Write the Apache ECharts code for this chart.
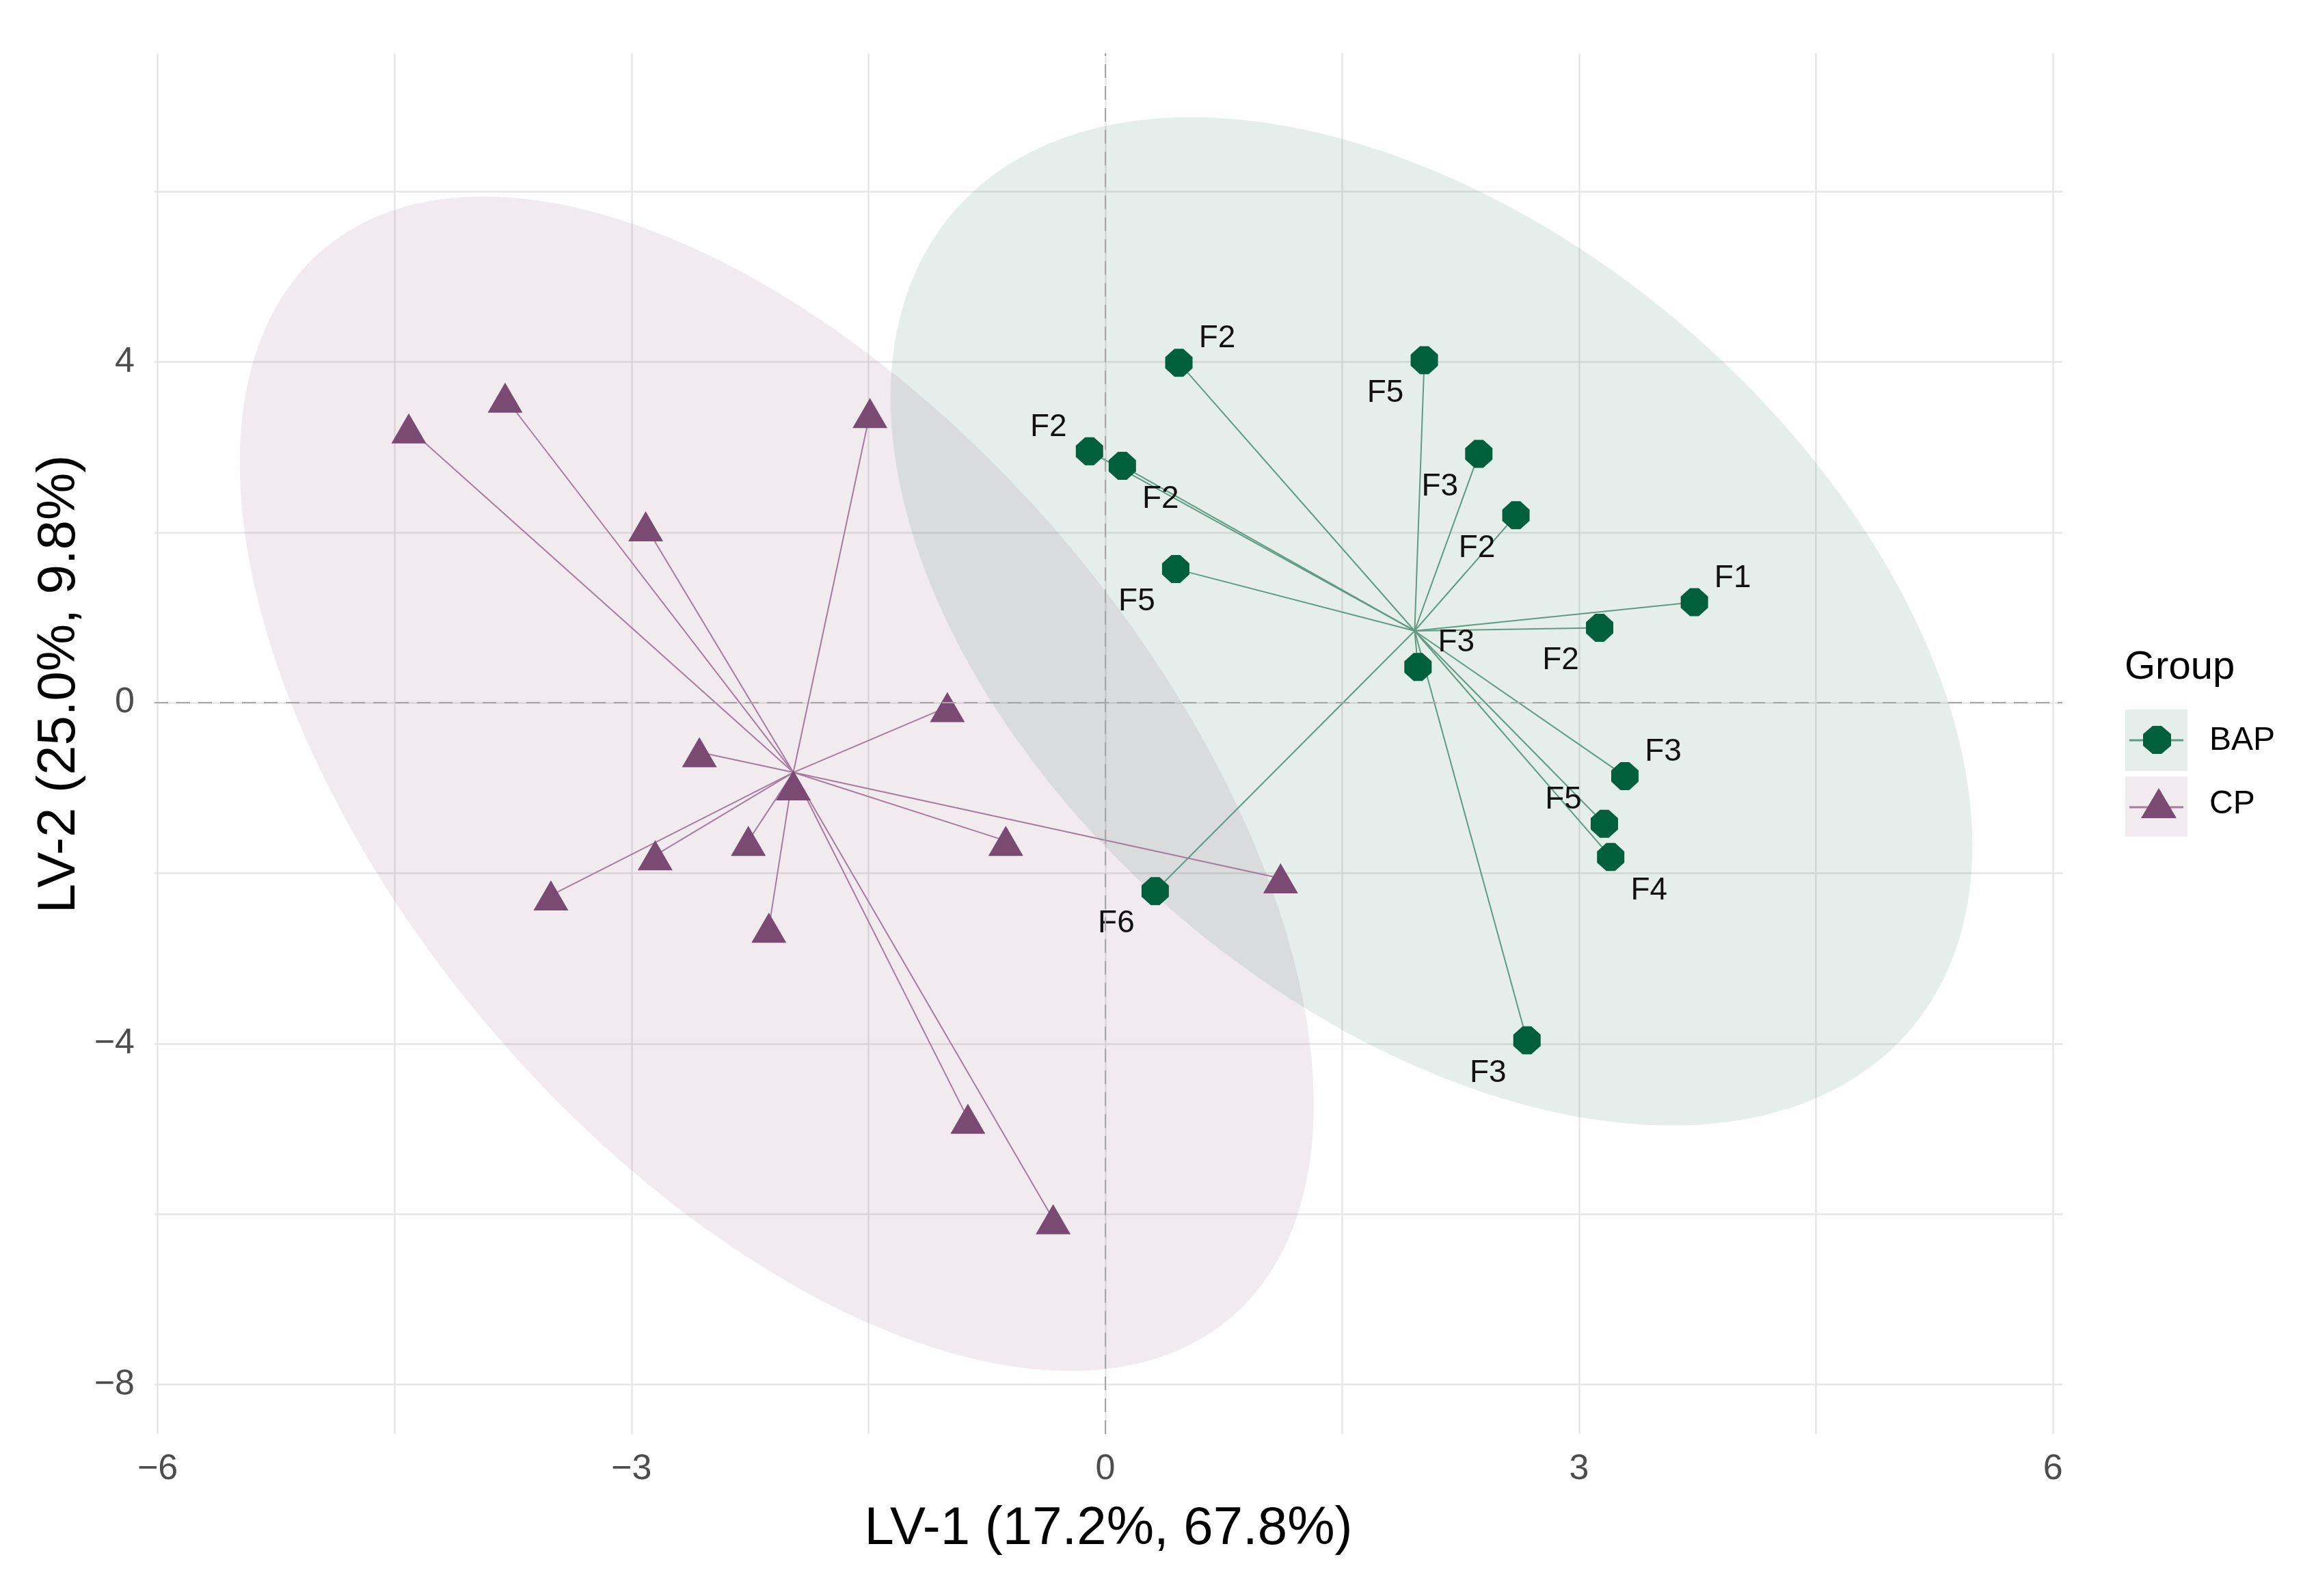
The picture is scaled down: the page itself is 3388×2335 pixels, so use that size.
<!DOCTYPE html>
<html>
<head>
<meta charset="utf-8">
<script src="https://cdn.jsdelivr.net/npm/echarts@6/dist/echarts.min.js"></script>
<style>html,body{margin:0;padding:0;background:#fff}#c{width:3388px;height:2335px}</style>
</head>
<body>
<div id="c"></div>
<script>
// ---------- data ----------
const groups = ['BAP', 'CP'];
const bapX = [0.466, 2.02, -0.10, 0.108, 2.365, 2.60, 0.446, 3.73, 3.13, 1.98, 3.29, 3.16, 3.20, 0.316, 2.67];
const bapY = [3.99, 4.02, 2.95, 2.78, 2.92, 2.20, 1.57, 1.18, 0.88, 0.42, -0.86, -1.42, -1.81, -2.21, -3.96];
const bapLabels = ['F2', 'F5', 'F2', 'F2', 'F3', 'F2', 'F5', 'F1', 'F2', 'F3', 'F3', 'F5', 'F4', 'F6', 'F3'];
const bapLabelSide = ['ur', 'll', 'ul', 'lr', 'll', 'll', 'll', 'ur', 'll', 'ur', 'ur', 'ul', 'lr', 'll', 'll'];
const cpX = [-4.41, -3.80, -1.49, -2.91, -1.00, -2.57, -1.975, -2.26, -2.85, -0.63, -3.51, -2.13, 1.11, -0.87, -0.33];
const cpY = [3.22, 3.58, 3.40, 2.07, -0.05, -0.58, -0.97, -1.62, -1.79, -1.62, -2.26, -2.64, -2.06, -4.88, -6.06];
const xTickLabels = [-6, -3, 0, 3, 6];
const yTickLabels = [-8, -4, 0, 4];
// 95% ellipse descriptors (centre and covariance) per group
const ellipseCenterX = [2.065, -2.08];
const ellipseCenterY = [0.955, -0.95];
const ellipseVarX = [11.73, 11.56];
const ellipseVarY = [34.99, 47.47];
const ellipseCovXY = [-9.0, -12.8];

// ---------- styles ----------
const FONT = '"Liberation Sans", Arial, Helvetica, sans-serif';
const markerColor = ['#00603d', '#7a4a73'];
const segColor = ['#5f9a83', '#a67c9d'];
const ellipseColor = ['#005a35', '#74386b'];
const octagon = 'path://M34,0L66,0L100,30L100,70L66,100L34,100L0,70L0,30Z';
const sideOffset = { ur: [56, -35], ul: [-60, -35], ll: [-57, 48], lr: [56, 49] };
const fmtMinus = v => String(v).replace('-', '\u2212');

function mean(a) { return a.reduce((s, v) => s + v, 0) / a.length; }
const bapC = [mean(bapX), mean(bapY)];
const cpC = [mean(cpX), mean(cpY)];

const bapSegs = bapX.map((x, i) => ({ coords: [bapC, [x, bapY[i]]] }));
const cpSegs = cpX.map((x, i) => ({ coords: [cpC, [x, cpY[i]]] }));

const bapPoints = bapX.map((x, i) => ({
  value: [x, bapY[i]],
  name: bapLabels[i],
  label: { offset: sideOffset[bapLabelSide[i]] }
}));
const cpPoints = cpX.map((x, i) => [x, cpY[i]]);

function ellipseItem(params, api) {
  const i = params.dataIndex;
  const a = Math.sqrt(ellipseVarX[i]);
  const b = ellipseCovXY[i] / a;
  const c = Math.sqrt(ellipseVarY[i] - b * b);
  const pts = [];
  const n = 240;
  for (let k = 0; k < n; k++) {
    const t = 2 * Math.PI * k / n;
    pts.push(api.coord([ellipseCenterX[i] + a * Math.cos(t), ellipseCenterY[i] + b * Math.cos(t) + c * Math.sin(t)]));
  }
  return { type: 'polygon', shape: { points: pts }, style: { fill: ellipseColor[i], opacity: 0.1 } };
}

const chart = echarts.init(document.getElementById('c'), null, { renderer: 'canvas' });
const gridLine = { show: true, showMinLine: false, showMaxLine: false, lineStyle: { color: '#e6e6e6', width: 2.5 } };

// legend key (ggplot-style: tinted box, segment line, marker)
const legendGraphics = [
  { type: 'text', left: 3108, top: 948, z: 10, style: { text: 'Group', fontSize: 58, fontFamily: FONT, fill: '#000' } },
  { type: 'rect', shape: { x: 3109, y: 1038, width: 91, height: 90 }, z: 1, style: { fill: ellipseColor[0], opacity: 0.1 } },
  { type: 'rect', shape: { x: 3109, y: 1136, width: 91, height: 88 }, z: 1, style: { fill: ellipseColor[1], opacity: 0.1 } },
  { type: 'line', shape: { x1: 3115, y1: 1083, x2: 3194, y2: 1083 }, z: 2, style: { stroke: segColor[0], lineWidth: 3 } },
  { type: 'line', shape: { x1: 3115, y1: 1181, x2: 3194, y2: 1181 }, z: 2, style: { stroke: segColor[1], lineWidth: 3 } },
  { type: 'polygon', z: 3, shape: { points: [[3149, 1062], [3162, 1062], [3176, 1074], [3176, 1091], [3162, 1103], [3149, 1103], [3135, 1091], [3135, 1074]] }, style: { fill: markerColor[0] } },
  { type: 'polygon', z: 3, shape: { points: [[3158, 1153], [3184, 1197], [3132, 1197]] }, style: { fill: markerColor[1] } },
  { type: 'text', x: 3232, y: 1084, z: 10, style: { text: 'BAP', fontSize: 48, fontFamily: FONT, fill: '#000', verticalAlign: 'middle', align: 'left' } },
  { type: 'text', x: 3232, y: 1177, z: 10, style: { text: 'CP', fontSize: 48, fontFamily: FONT, fill: '#000', verticalAlign: 'middle', align: 'left' } }
];

chart.setOption({
  backgroundColor: '#ffffff',
  animation: false,
  textStyle: { fontFamily: FONT },
  grid: { left: 226, right: 371, top: 78, bottom: 237, containLabel: false },
  xAxis: {
    type: 'value', min: -6.02, max: 6.06, minInterval: 1.5, maxInterval: 1.5, splitNumber: 8,
    axisLine: { show: false }, axisTick: { show: false },
    splitLine: gridLine,
    axisLabel: {
      showMinLabel: false, showMaxLabel: false, margin: 26,
      fontSize: 52, color: '#4d4d4d', fontFamily: FONT,
      formatter: v => (xTickLabels.some(t => Math.abs(t - v) < 1e-6) ? fmtMinus(Math.round(v)) : '')
    },
    name: 'LV-1 (17.2%, 67.8%)', nameLocation: 'middle', nameGap: 100,
    nameTextStyle: { fontSize: 78, color: '#000', fontFamily: FONT }
  },
  yAxis: {
    type: 'value', min: -8.58, max: 7.62, minInterval: 2, maxInterval: 2, splitNumber: 8,
    axisLine: { show: false }, axisTick: { show: false },
    splitLine: gridLine,
    axisLabel: {
      showMinLabel: false, showMaxLabel: false, margin: 29,
      fontSize: 52, color: '#4d4d4d', fontFamily: FONT,
      formatter: v => (yTickLabels.some(t => Math.abs(t - v) < 1e-6) ? fmtMinus(Math.round(v)) : '')
    },
    name: 'LV-2 (25.0%, 9.8%)', nameLocation: 'middle', nameGap: 100,
    nameTextStyle: { fontSize: 78, color: '#000', fontFamily: FONT, padding: [0, 0, 0, 174] }
  },
  graphic: legendGraphics,
  series: [
    {
      type: 'custom', name: 'ellipses', z: 1, silent: true, clip: false,
      data: groups.map((g, i) => [ellipseCenterX[i], ellipseCenterY[i]]),
      encode: { x: 0, y: 1 },
      renderItem: ellipseItem,
      markLine: {
        silent: true, symbol: 'none', label: { show: false },
        lineStyle: { color: '#a6a6a6', width: 2, type: [20, 12] },
        data: [{ xAxis: 0 }, { yAxis: 0 }]
      }
    },
    {
      type: 'lines', name: 'BAP-seg', coordinateSystem: 'cartesian2d', z: 3, silent: true,
      lineStyle: { color: segColor[0], width: 2, opacity: 1 },
      data: bapSegs
    },
    {
      type: 'lines', name: 'CP-seg', coordinateSystem: 'cartesian2d', z: 3, silent: true,
      lineStyle: { color: segColor[1], width: 2, opacity: 1 },
      data: cpSegs
    },
    {
      type: 'scatter', name: 'BAP', z: 4, symbol: octagon, symbolSize: [40, 41],
      itemStyle: { color: markerColor[0], opacity: 1 },
      label: { show: true, position: 'inside', formatter: '{b}', fontSize: 46, color: '#111', fontFamily: FONT },
      data: bapPoints
    },
    {
      type: 'scatter', name: 'CP', z: 4, symbol: 'triangle', symbolSize: [51, 44],
      itemStyle: { color: markerColor[1], opacity: 1 },
      data: cpPoints
    }
  ]
});
</script>
</body>
</html>
